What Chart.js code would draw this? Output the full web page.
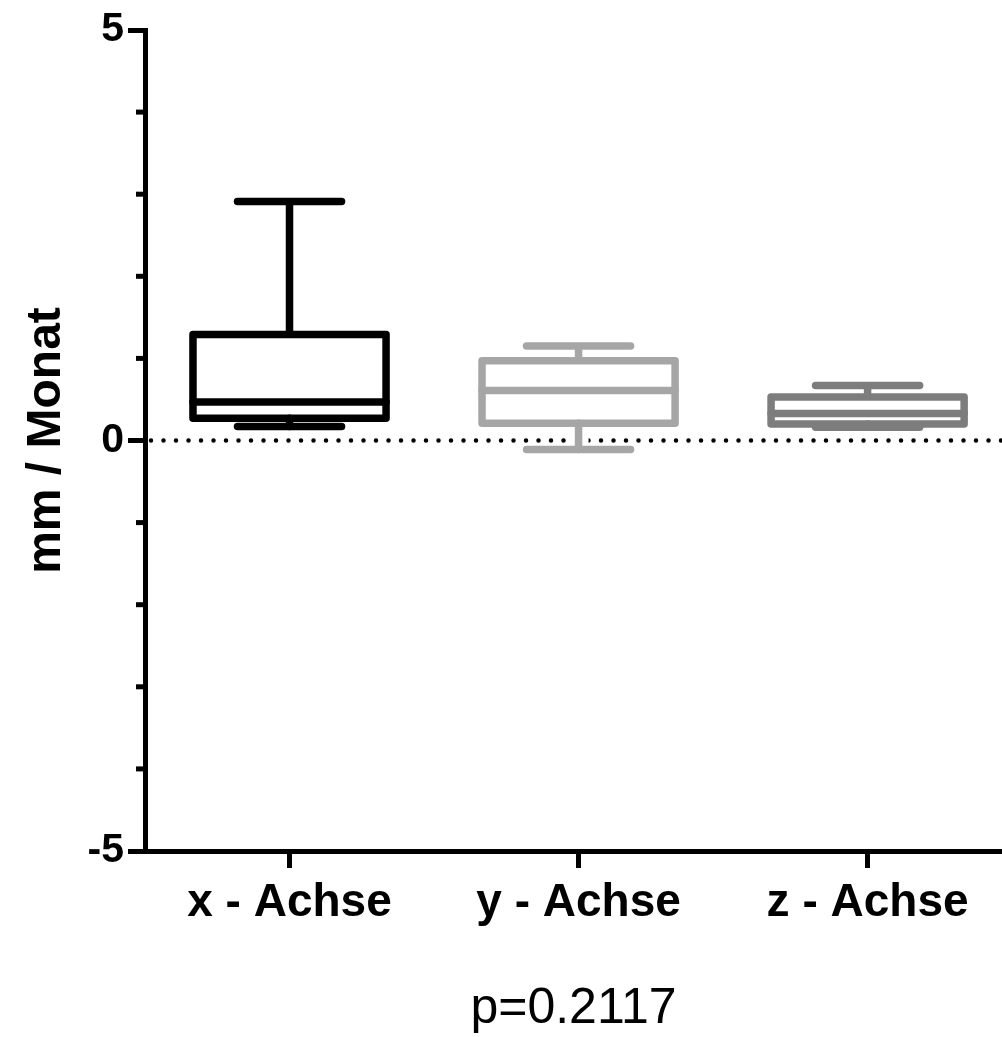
<!DOCTYPE html>
<html>
<head>
<meta charset="utf-8">
<script src="https://cdn.jsdelivr.net/npm/chart.js@4.4.1/dist/chart.umd.min.js"></script>
<style>
  html, body { margin: 0; padding: 0; background: #fff; }
  #wrap { width: 1002px; height: 1037px; }
</style>
</head>
<body>
<div id="wrap"><canvas id="chart"></canvas></div>
<script>
// values (mm / Monat)
const categories = ["x - Achse", "y - Achse", "z - Achse"];
const whiskerLow = [0.17, -0.11, 0.16];
const q1 = [0.27, 0.21, 0.20];
const median = [0.47, 0.61, 0.33];
const q3 = [1.29, 0.97, 0.53];
const whiskerHigh = [2.91, 1.15, 0.67];
const boxColors = ["#000000", "#a6a6a6", "#7d7d7d"];

const yTickValues = [-5, 0, 5];
const yMinorTicks = [-4, -3, -2, -1, 1, 2, 3, 4];
const pValue = "p=0.2117";

const FONT = "'Liberation Sans', Arial, Helvetica, sans-serif";
const BOX_HALF = 0.334;
const CAP_HALF = 0.18;
const LW = 7.5;

function line(points, color, width, order, extra) {
  return Object.assign({
    data: points,
    borderColor: color,
    borderWidth: width,
    pointRadius: 0,
    pointHoverRadius: 0,
    showLine: true,
    fill: false,
    tension: 0,
    borderJoinStyle: "round",
    borderCapStyle: "round",
    clip: false,
    order: order,
  }, extra || {});
}

const datasets = [];

// dotted zero line
datasets.push(line([{ x: -0.5, y: 0 }, { x: 2.465, y: 0 }], "#000", 4.5, 3,
  { borderDash: [0, 12.5], borderDashOffset: -6 }));

categories.forEach((c, i) => {
  const col = boxColors[i];
  // white halo behind the whiskers
  datasets.push(line([{ x: i, y: q1[i] }, { x: i, y: whiskerLow[i] }], "#fff", 20, 2, { borderCapStyle: "butt" }));
  datasets.push(line([{ x: i, y: q3[i] }, { x: i, y: whiskerHigh[i] }], "#fff", 20, 2, { borderCapStyle: "butt" }));

  // box
  datasets.push(line([
    { x: i - BOX_HALF, y: q1[i] }, { x: i + BOX_HALF, y: q1[i] },
    { x: i + BOX_HALF, y: q3[i] }, { x: i - BOX_HALF, y: q3[i] },
    { x: i - BOX_HALF, y: q1[i] },
  ], col, LW, 1));
  // median
  datasets.push(line([{ x: i - BOX_HALF, y: median[i] }, { x: i + BOX_HALF, y: median[i] }], col, LW, 1));
  // whiskers
  datasets.push(line([{ x: i, y: q3[i] }, { x: i, y: whiskerHigh[i] }], col, LW, 1, { borderCapStyle: "butt" }));
  datasets.push(line([{ x: i, y: q1[i] }, { x: i, y: whiskerLow[i] }], col, LW, 1, { borderCapStyle: "butt" }));
  // caps
  datasets.push(line([{ x: i - CAP_HALF, y: whiskerHigh[i] }, { x: i + CAP_HALF, y: whiskerHigh[i] }], col, LW, 1));
  datasets.push(line([{ x: i - CAP_HALF, y: whiskerLow[i] }, { x: i + CAP_HALF, y: whiskerLow[i] }], col, LW, 1));
});

const minorTickPlugin = {
  id: "minorTicks",
  afterDraw(chart) {
    const y = chart.scales.y;
    const ctx = chart.ctx;
    ctx.save();
    ctx.strokeStyle = "#000";
    ctx.lineWidth = 5;
    yMinorTicks.forEach((v) => {
      const py = y.getPixelForValue(v);
      ctx.beginPath();
      ctx.moveTo(y.right - 9, py);
      ctx.lineTo(y.right, py);
      ctx.stroke();
    });
    ctx.restore();
  },
};

new Chart(document.getElementById("chart").getContext("2d"), {
  type: "scatter",
  data: { datasets: datasets },
  plugins: [minorTickPlugin],
  options: {
    responsive: true,
    maintainAspectRatio: false,
    animation: false,
    layout: { padding: { top: 30, left: 0, right: 0, bottom: 0 } },
    plugins: { legend: { display: false }, tooltip: { enabled: false }, title: { display: false } },
    scales: {
      x: {
        type: "linear",
        min: -0.5,
        max: 2.465,
        afterBuildTicks: (s) => { s.ticks = categories.map((c, i) => ({ value: i })); },
        afterFit: (s) => { s.height = 186; },
        ticks: {
          callback: (v, idx) => categories[idx],
          color: "#000",
          font: { family: FONT, size: 46, weight: "bold" },
          padding: 8,
          maxRotation: 0,
          autoSkip: false,
        },
        grid: { drawOnChartArea: false, tickLength: 17, tickWidth: 5, tickColor: "#000" },
        border: { width: 5, color: "#000" },
        title: {
          display: true,
          text: pValue,
          color: "#000",
          font: { family: FONT, size: 50, weight: "normal", lineHeight: 1.1 },
          padding: { top: 0, bottom: 0 },
        },
      },
      y: {
        min: -5,
        max: 5,
        afterBuildTicks: (s) => { s.ticks = yTickValues.map((v) => ({ value: v })); },
        afterFit: (s) => { s.width = 145; },
        ticks: {
          color: "#000",
          font: { family: FONT, size: 41, weight: "bold" },
          padding: 4,
        },
        grid: { drawOnChartArea: false, tickLength: 17, tickWidth: 5, tickColor: "#000" },
        border: { width: 5, color: "#000" },
        title: {
          display: true,
          text: "mm / Monat",
          color: "#000",
          font: { family: FONT, size: 48, weight: "bold" },
          padding: { top: 18, bottom: 0 },
        },
      },
    },
  },
});
</script>
</body>
</html>
